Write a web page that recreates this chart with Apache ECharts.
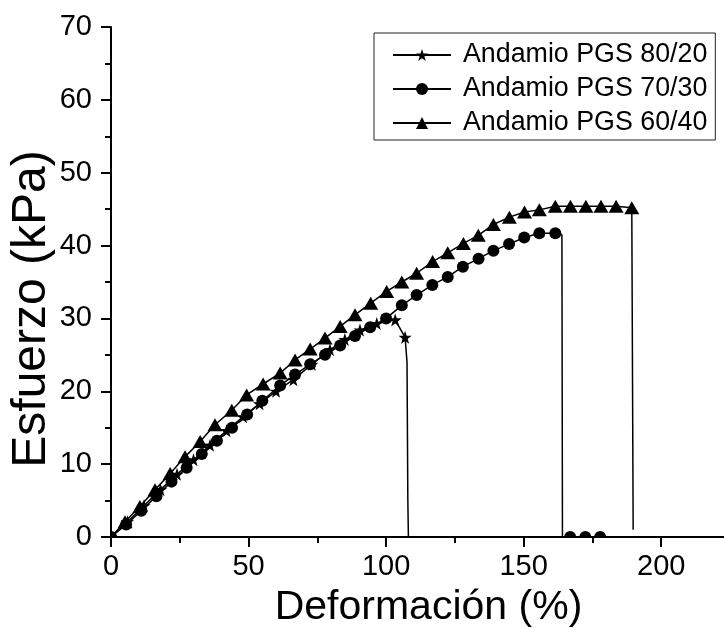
<!DOCTYPE html>
<html>
<head>
<meta charset="utf-8">
<script src="https://cdn.jsdelivr.net/npm/echarts@6/dist/echarts.min.js"></script>
<style>html,body{margin:0;padding:0;background:#fff;}#c{width:724px;height:628px;}</style>
</head>
<body>
<div id="c"></div>
<script>
// ---- data ----
const seriesNames = ['Andamio PGS 80/20', 'Andamio PGS 70/30', 'Andamio PGS 60/40'];

// 80/20 (stars)
const strain8020 = [0, 6, 12, 18, 24, 30, 36, 42, 48, 54, 60, 66.3, 73, 79.6, 85, 90.5, 96.6, 103.3, 106.9, 107.6, 107.9, 108.1, 110, 113.6];
const stress8020 = [0, 2.1, 4.3, 6.5, 8.6, 10.6, 12.6, 14.6, 16.5, 18.3, 20.0, 21.6, 23.7, 25.7, 27.1, 28.4, 29.3, 29.8, 27.4, 24, 5, 0, -0.4, -0.6];
const marked8020 = [1,1,1,1,1,1,1,1,1,1,1,1,1,1,1,1,1,1,1,0,0,0,1,1];

// 70/30 (circles)
const strain7030 = [0, 5.5, 11, 16.5, 22, 27.5, 33, 38.5, 44, 49.5, 55, 61.5, 66.9, 72.4, 77.8, 83.3, 88.7, 94.2, 100, 105.7, 111.1, 116.8, 122.4, 127.9, 133.6, 139, 144.7, 150.2, 155.7, 161.5, 163.9, 164.1, 166.9, 172.4, 177.8];
const stress7030 = [0, 1.7, 3.6, 5.6, 7.6, 9.5, 11.4, 13.2, 15.0, 16.8, 18.7, 20.8, 22.3, 23.7, 25.0, 26.3, 27.6, 28.8, 30.0, 31.8, 33.2, 34.6, 35.7, 37.1, 38.2, 39.3, 40.2, 41.1, 41.7, 41.7, 41.5, 0, 0, 0, 0];
const marked7030 = [1,1,1,1,1,1,1,1,1,1,1,1,1,1,1,1,1,1,1,1,1,1,1,1,1,1,1,1,1,1,0,0,1,1,1];

// 60/40 (triangles)
const strain6040 = [0, 5.1, 10.5, 16, 21.5, 26.9, 32.4, 37.8, 43.9, 49.3, 55.3, 61.5, 66.9, 72.4, 77.8, 83.3, 88.7, 94.4, 100.2, 105.7, 111.1, 116.9, 122.4, 128.1, 133.5, 139, 144.8, 150.3, 155.7, 161.5, 167, 172.6, 178.1, 183.6, 189.3, 189.8];
const stress6040 = [0, 2.1, 4.2, 6.5, 8.7, 11.0, 13.1, 15.4, 17.4, 19.5, 21.0, 22.5, 24.3, 25.8, 27.3, 28.9, 30.5, 32.1, 33.7, 35.0, 36.2, 37.8, 39.0, 40.3, 41.4, 42.9, 43.9, 44.6, 44.9, 45.4, 45.4, 45.4, 45.4, 45.4, 45.2, 1.0];
const marked6040 = [1,1,1,1,1,1,1,1,1,1,1,1,1,1,1,1,1,1,1,1,1,1,1,1,1,1,1,1,1,1,1,1,1,1,1,0];

const xTicks = [0, 50, 100, 150, 200];
const yTicks = [0, 10, 20, 30, 40, 50, 60, 70];

// ---- build ----
function build(xs, ys, marks) {
  return xs.map((x, i) => marks[i] ? [x, ys[i]] : { value: [x, ys[i]], symbol: 'none' });
}
const FONT = '"Liberation Sans", Arial, Helvetica, sans-serif';
const chart = echarts.init(document.getElementById('c'), null, { renderer: 'canvas' });

function lineSeries(name, data, symbol, size) {
  return {
    name: name, type: 'line', data: data, symbol: symbol, symbolSize: size,
    showAllSymbol: true, clip: true, z: 2,
    lineStyle: { color: '#000', width: 1.5 },
    itemStyle: { color: '#000' },
    emphasis: { disabled: true }
  };
}

chart.setOption({
  animation: false,
  backgroundColor: '#fff',
  grid: { left: 111, right: -6, top: 27, bottom: 91, containLabel: false, outerBoundsMode: 'none' },
  // white masks outside the plot area so markers sitting on the axes look clipped
  graphic: [
    { type: 'rect', silent: true, z: 5, shape: { x: 60, y: 538, width: 680, height: 28 }, style: { fill: '#fff' } },
    { type: 'rect', silent: true, z: 5, shape: { x: 94, y: 500, width: 16, height: 40 }, style: { fill: '#fff' } }
  ],
  legend: {
    z: 20,
    data: seriesNames,
    orient: 'vertical',
    left: 374, top: 33,
    width: 339,
    backgroundColor: '#fff',
    borderColor: '#222', borderWidth: 1,
    padding: [7, 8, 2, 18],
    itemWidth: 58, itemHeight: 15, itemGap: 4,
    textStyle: { fontFamily: FONT, fontSize: 26.8, color: '#000', lineHeight: 30, padding: [0, 0, 0, 7] }
  },
  xAxis: {
    type: 'value', min: 0, max: 225, interval: 50, z: 10,
    name: 'Deformación (%)', nameLocation: 'middle', nameGap: 50, nameMoveOverlap: false,
    nameTextStyle: { fontFamily: FONT, fontSize: 41, color: '#000', padding: [0, 0, 0, 16] },
    axisLine: { show: true, onZero: false, lineStyle: { color: '#000', width: 2 } },
    axisTick: { show: true, inside: false, length: 10, lineStyle: { color: '#000', width: 2 } },
    minorTick: { show: true, splitNumber: 2, length: 6, lineStyle: { color: '#000', width: 2 } },
    axisLabel: { fontFamily: FONT, fontSize: 29, color: '#000', margin: 15, showMaxLabel: false,
      formatter: v => xTicks.indexOf(v) >= 0 ? String(v) : '' },
    splitLine: { show: false }
  },
  yAxis: {
    type: 'value', min: 0, max: 70, interval: 10, z: 10,
    name: 'Esfuerzo (kPa)', nameLocation: 'middle', nameGap: 55, nameMoveOverlap: false,
    nameTextStyle: { fontFamily: FONT, fontSize: 48, color: '#000', padding: [0, 54, 0, 0] },
    axisLine: { show: true, onZero: false, lineStyle: { color: '#000', width: 2 } },
    axisTick: { show: true, inside: false, length: 10, lineStyle: { color: '#000', width: 2 } },
    minorTick: { show: true, splitNumber: 2, length: 6, lineStyle: { color: '#000', width: 2 } },
    axisLabel: { fontFamily: FONT, fontSize: 29, color: '#000', margin: 19,
      formatter: v => yTicks.indexOf(v) >= 0 ? String(v) : '' },
    splitLine: { show: false }
  },
  series: [
    lineSeries(seriesNames[0], build(strain8020, stress8020, marked8020), 'path://M0,-10L2.35,-3.24L9.51,-3.09L3.8,1.24L5.88,8.09L0,4L-5.88,8.09L-3.8,1.24L-9.51,-3.09L-2.35,-3.24Z', 13),
    lineSeries(seriesNames[1], build(strain7030, stress7030, marked7030), 'circle', 12),
    lineSeries(seriesNames[2], build(strain6040, stress6040, marked6040), 'triangle', [15, 13])
  ]
});
</script>
</body>
</html>
